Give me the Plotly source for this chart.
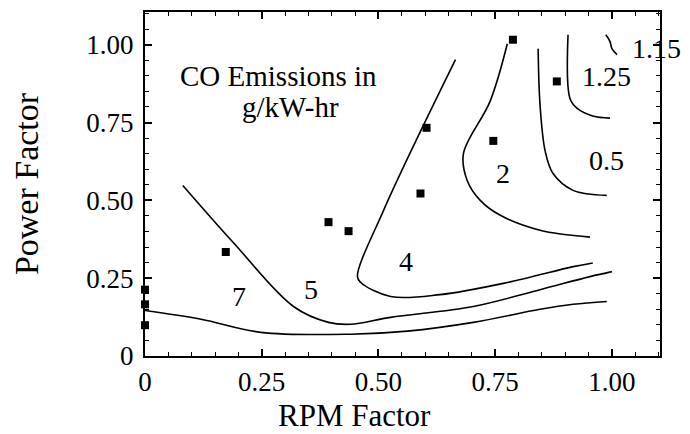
import plotly.graph_objects as go

# Contour lines
c7_x = [0.0, 0.12, 0.248, 0.44, 0.562, 0.703, 0.846, 0.917, 0.989]
c7_y = [0.146, 0.118, 0.076, 0.070, 0.080, 0.108, 0.150, 0.166, 0.175]

c5_x = [0.081, 0.190, 0.318, 0.393, 0.440, 0.526, 0.703, 0.846, 0.953, 1.0]
c5_y = [0.548, 0.363, 0.159, 0.108, 0.102, 0.124, 0.159, 0.213, 0.255, 0.271]

c4_x = [0.665, 0.511, 0.455, 0.462, 0.526, 0.632, 0.776, 0.917, 0.959]
c4_y = [0.952, 0.468, 0.255, 0.236, 0.191, 0.197, 0.236, 0.287, 0.299]

c2_x = [0.776, 0.739, 0.682, 0.690, 0.718, 0.761, 0.846, 0.953]
c2_y = [1.003, 0.818, 0.650, 0.564, 0.500, 0.452, 0.404, 0.382]

c05_x = [0.842, 0.846, 0.857, 0.874, 0.917, 0.989]
c05_y = [0.987, 0.809, 0.659, 0.586, 0.532, 0.516]

c125_x = [0.906, 0.910, 0.925, 0.959, 0.996]
c125_y = [1.032, 0.828, 0.796, 0.771, 0.764]

c115_x = [0.987, 0.996, 1.0, 1.011]
c115_y = [1.032, 1.010, 0.987, 0.968]

# Measured points
pt_x = [0.788, 0.882, 0.746, 0.603, 0.590, 0.393, 0.436, 0.173, 0.0, 0.0, 0.0]
pt_y = [1.016, 0.882, 0.691, 0.733, 0.522, 0.430, 0.401, 0.334, 0.213, 0.166, 0.099]

# Contour labels
lab_text = ["7", "5", "4", "2", "0.5", "1.25"]
lab_x = [0.201, 0.355, 0.558, 0.767, 0.989, 0.989]
lab_y = [0.191, 0.213, 0.303, 0.586, 0.627, 0.898]
edge_label = "1.15"
edge_label_y = 0.987

tick_vals = [0, 0.25, 0.5, 0.75, 1.0]
tick_text = ["0", "0.25", "0.50", "0.75", "1.00"]

fig = go.Figure()
for xs, ys in [(c7_x, c7_y), (c5_x, c5_y), (c4_x, c4_y), (c2_x, c2_y),
               (c05_x, c05_y), (c125_x, c125_y), (c115_x, c115_y)]:
    fig.add_trace(go.Scatter(x=xs, y=ys, mode="lines", line=dict(color="black", width=1.6, shape="spline"),
                             showlegend=False, hoverinfo="skip"))

fig.add_trace(go.Scatter(x=pt_x, y=pt_y, mode="markers",
                         marker=dict(symbol="square", size=8, color="black"),
                         showlegend=False, cliponaxis=False))

fnt = dict(family="Liberation Serif, Times New Roman, serif", color="black")

for t, x, y in zip(lab_text, lab_x, lab_y):
    fig.add_annotation(x=x, y=y, text=t, showarrow=False, font=dict(size=28, **fnt))

fig.add_annotation(xref="paper", x=0.994, y=edge_label_y, text=edge_label, showarrow=False,
                   xanchor="center", font=dict(size=28, **fnt))

fig.add_annotation(x=0.286, y=0.898, text="CO Emissions in", showarrow=False, font=dict(size=29, **fnt))
fig.add_annotation(x=0.312, y=0.800, text="g/kW-hr", showarrow=False, font=dict(size=29, **fnt))

# x-axis title (placed left of centre as in the original)
fig.add_annotation(xref="paper", yref="paper", x=0.406, y=-0.173, xanchor="center", yanchor="middle",
                   text="RPM Factor", showarrow=False, font=dict(size=31, **fnt))

axis_common = dict(showgrid=False, zeroline=False, showline=True, linecolor="black", linewidth=2,
                   mirror="allticks", ticks="inside", ticklen=7, tickwidth=1.5, tickcolor="black",
                   tickvals=tick_vals, ticktext=tick_text,
                   minor=dict(ticks="inside", ticklen=4, tickwidth=1, tickcolor="black", dtick=0.05, tick0=0),
                   tickfont=dict(size=27, **fnt))

fig.update_xaxes(range=[0, 1.103], ticklabelstandoff=1, **axis_common)
fig.update_yaxes(range=[0, 1.105], ticklabelstandoff=4,
                 title=dict(text="Power Factor", font=dict(size=34, **fnt), standoff=42),
                 **axis_common)

fig.update_layout(width=682, height=426, margin=dict(l=137, r=30, t=2, b=78),
                  plot_bgcolor="white", paper_bgcolor="white")

fig.write_html("out.html")
